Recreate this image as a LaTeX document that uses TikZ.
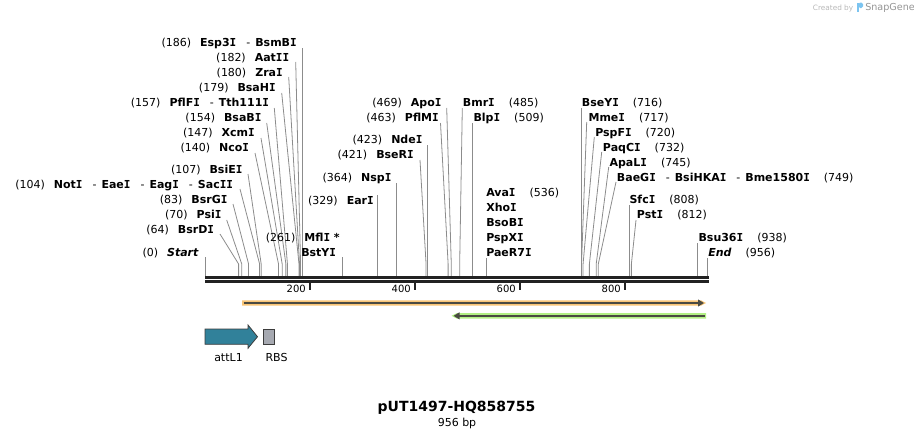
\documentclass[tikz,border=0pt]{standalone}
\usepackage{fontspec}
\setmainfont{DejaVu Sans}[BoldFont={DejaVu Sans Bold},ItalicFont={DejaVu Sans Oblique},BoldItalicFont={DejaVu Sans Bold Oblique}]
\newfontfamily\monofam{DejaVu Sans Mono}[BoldFont={DejaVu Sans Mono Bold}]
\usetikzlibrary{arrows.meta}
\newdimen\PX \PX=0.75pt
\newcommand\nm[1]{\textbf{#1}}
\newcommand\Ii{{\monofam\bfseries I}}
\newcommand\gl{\hspace{9\PX}}
\newcommand\gr{\hspace{14\PX}}
\newcommand\dsh{\hspace{10\PX}-\hspace{5\PX}}
\definecolor{conncol}{HTML}{8C8C8C}
\definecolor{bbcol}{HTML}{222222}
\definecolor{orangeband}{HTML}{F9C576}
\definecolor{greenband}{HTML}{B2F084}
\definecolor{featline}{HTML}{4A4A42}
\definecolor{attcol}{HTML}{31819A}
\definecolor{rbscol}{HTML}{A6A9B1}
\definecolor{edgecol}{HTML}{3C3C3C}
\definecolor{logocol}{HTML}{7CC4F0}
\tikzset{
  lbl/.style={inner sep=0pt, font=\fontsize{8.25}{9}\selectfont, text=black},
  conn/.style={draw=conncol, line width=0.6pt},
  bbline/.style={line width=2pt, draw=bbcol},
  tickline/.style={line width=1.4pt, draw=bbcol},
  ticklbl/.style={inner sep=0pt, font=\fontsize{7.5}{9}\selectfont, anchor=east},
  featlbl/.style={inner sep=0pt, font=\fontsize{8.25}{9}\selectfont},
  featarrow/.style={line width=1.5pt, draw=featline},
  boxfeat/.style={draw=edgecol, line width=0.6pt},
}
% slanted site: name, anchor, lx, ly, text, startx, starty, pos
\newcommand\SiteS[8]{%
  \node[lbl, anchor=#2] (#1) at (#3,#4) {#5};
  \coordinate (#1a) at (#6,#7);
  \coordinate (#1k) at ({205+0.5251*#8},264);
  \coordinate (#1s) at ({205+0.5251*#8},276);
  \draw[conn] (#1a) -- (#1k) -- (#1s);
}
% vertical site: name, anchor, lx, ly, text, starty, pos
\newcommand\SiteV[7]{%
  \node[lbl, anchor=#2] (#1) at (#3,#4) {#5};
  \coordinate (#1a) at ({205+0.5251*#7},#6);
  \coordinate (#1s) at ({205+0.5251*#7},276);
  \draw[conn] (#1a) -- (#1s);
}
\begin{document}
\begin{tikzpicture}[x=0.75pt,y=-0.75pt]
\useasboundingbox (0,0) rectangle (914,439);

% ---- watermark ----
\node[inner sep=0pt, anchor=base east, font=\fontsize{5.5}{6}\selectfont, text=black!28] (cb) at (853.5,10) {Created by};
\fill[logocol] (857,2.5) rectangle (859,12);
\fill[logocol, rounded corners=1.2pt] (858.5,2.5) rectangle (863,8);
\node[inner sep=0pt, anchor=base west, font=\fontsize{7.2}{8}\selectfont, text=black!42] (sg) at (865,10.5) {SnapGene};

% ---- left sites ----
\SiteV{esp}{base east}{297}{46}{(186)\gl\nm{Esp3\Ii}\dsh\nm{BsmB\Ii}}{48}{186}
\SiteS{aat}{base east}{289.5}{61}{(182)\gl\nm{Aat\Ii\Ii}}{295.7}{62}{182}
\SiteS{zra}{base east}{283}{76}{(180)\gl\nm{Zra\Ii}}{288.7}{77}{180}
\SiteS{bsahi}{base east}{276}{91}{(179)\gl\nm{BsaH\Ii}}{281.7}{93}{179}
\SiteS{pflfi}{base east}{269.3}{106}{(157)\gl\nm{PflF\Ii}\dsh\nm{Tth111\Ii}}{274.3}{108}{157}
\SiteS{bsabi}{base east}{261.7}{121}{(154)\gl\nm{BsaB\Ii}}{266.7}{123}{154}
\SiteS{xcm}{base east}{255}{136}{(147)\gl\nm{Xcm\Ii}}{261}{138}{147}
\SiteS{nco}{base east}{249.3}{151}{(140)\gl\nm{Nco\Ii}}{255}{153}{140}
\SiteS{bsiei}{base east}{242.7}{173}{(107)\gl\nm{BsiE\Ii}}{248}{174}{107}
\SiteS{notI}{base east}{233.3}{188}{(104)\gl\nm{Not\Ii}\dsh\nm{Eae\Ii}\dsh\nm{Eag\Ii}\dsh\nm{Sac\Ii\Ii}}{240}{189}{104}
\SiteS{bsrgi}{base east}{227.7}{203}{(83)\gl\nm{BsrG\Ii}}{233}{204}{83}
\SiteS{psi}{base east}{221.7}{218}{(70)\gl\nm{Psi\Ii}}{226.7}{220}{70}
\SiteS{bsrdi}{base east}{214.3}{233}{(64)\gl\nm{BsrD\Ii}}{220}{234}{64}
\SiteV{start}{base east}{199}{256}{(0)\gl\textbf{\itshape Start}}{257}{0}

% ---- middle sites ----
\SiteV{mfl}{base east}{340}{241}{(261)\gl\nm{Mfl\Ii\ *}}{257}{261}
\node[lbl, anchor=base west] (bst) at (301,256) {\nm{BstY\Ii}};
\SiteV{ear}{base east}{374}{204}{(329)\gl\nm{Ear\Ii}}{195}{329}
\SiteV{nsp}{base east}{391.7}{181}{(364)\gl\nm{Nsp\Ii}}{183}{364}
\SiteS{bseri}{base east}{414}{158}{(421)\gl\nm{BseR\Ii}}{420}{160}{421}
\SiteV{nde}{base east}{422.7}{143}{(423)\gl\nm{Nde\Ii}}{145}{423}
\SiteS{pflmi}{base east}{439}{121}{(463)\gl\nm{PflM\Ii}}{440.5}{123}{463}
\SiteS{apo}{base east}{441.7}{106}{(469)\gl\nm{Apo\Ii}}{446.7}{108}{469}

% ---- right sites ----
\SiteS{bmr}{base west}{462.7}{106}{\nm{Bmr\Ii}\gr(485)}{462.3}{108}{485}
\SiteV{blp}{base west}{473.3}{121}{\nm{Blp\Ii}\gr(509)}{123}{509}
\SiteV{ava}{base west}{486}{196}{\nm{Ava\Ii}\gr(536)}{258}{536}
\node[lbl, anchor=base west] (xho) at (486,211) {\nm{Xho\Ii}};
\node[lbl, anchor=base west] (bsobi) at (486,226) {\nm{BsoB\Ii}};
\node[lbl, anchor=base west] (pspxi) at (486,241) {\nm{PspX\Ii}};
\node[lbl, anchor=base west] (paer) at (486,256) {\nm{PaeR7\Ii}};
\SiteV{bseyi}{base west}{581.7}{106}{\nm{BseY\Ii}\gr(716)}{108}{716}
\SiteS{mme}{base west}{588.3}{121}{\nm{Mme\Ii}\gr(717)}{586.7}{122}{717}
\SiteS{pspfi}{base west}{595}{136}{\nm{PspF\Ii}\gr(720)}{594.3}{137}{720}
\SiteS{paqci}{base west}{602.7}{151}{\nm{PaqC\Ii}\gr(732)}{601.7}{152}{732}
\SiteS{apali}{base west}{609.3}{166}{\nm{ApaL\Ii}\gr(745)}{608.7}{167}{745}
\SiteS{baegi}{base west}{616.7}{181}{\nm{BaeG\Ii}\dsh\nm{BsiHKA\Ii}\dsh\nm{Bme1580\Ii}\gr(749)}{616}{182}{749}
\SiteV{sfci}{base west}{629.3}{203}{\nm{Sfc\Ii}\gr(808)}{205}{808}
\SiteS{psti}{base west}{636.7}{218}{\nm{Pst\Ii}\gr(812)}{636}{220}{812}
\SiteV{bsu}{base west}{698.3}{241}{\nm{Bsu36\Ii}\gr(938)}{243}{938}
\SiteV{endsite}{base west}{708}{256}{\textbf{\itshape End}\gr(956)}{258}{956}

% ---- backbone ----
\draw[bbline] (205,277.7) -- (708.5,277.7);
\draw[bbline] (205,281.7) -- (708.5,281.7);
\foreach \p in {200,400,600,800}{
  \draw[tickline] ({205+0.5251*\p},282) -- ({205+0.5251*\p},289.5);
  \node[ticklbl] (t\p) at ({205+0.5251*\p-4},289) {\p};
}

% ---- features ----
\fill[orangeband] (242,300.3) -- (701,300.3) -- (706,303) -- (701,305.7) -- (242,305.7) -- cycle;
\coordinate (ora) at (243.5,303);
\coordinate (orb) at (704,303);
\draw[featarrow, -{Triangle[length=4.5pt,width=5pt]}] (ora) -- (orb);
\fill[greenband] (457,313) -- (706,313) -- (706,318.7) -- (457,318.7) -- (451.5,315.85) -- cycle;
\coordinate (gra) at (704.5,315.85);
\coordinate (grb) at (453.5,315.85);
\draw[featarrow, -{Triangle[length=4.5pt,width=5pt]}] (gra) -- (grb);

\filldraw[boxfeat, fill=attcol] (205,329) -- (248,329) -- (248,325) -- (257.5,336.7) -- (248,348.3) -- (248,344.3) -- (205,344.3) -- cycle;
\filldraw[boxfeat, fill=rbscol] (263.3,329) rectangle (274.3,344.3);
\node[featlbl] (att) at (228.5,357.5) {attL1};
\node[featlbl] (rbs) at (276.5,357.5) {RBS};

% ---- title ----
\node[inner sep=0pt, font=\fontsize{10.5}{12}\bfseries\selectfont] (title) at (456.5,408) {pUT1497-HQ858755};
\node[inner sep=0pt, font=\fontsize{8.25}{9}\selectfont] (len) at (457,423) {956 bp};
\end{tikzpicture}
\end{document}
